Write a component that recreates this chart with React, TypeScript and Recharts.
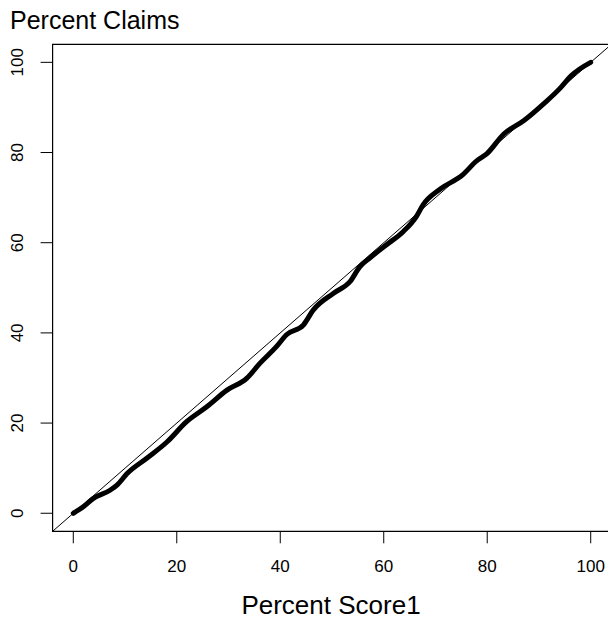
import { LineChart, Line, XAxis, YAxis, ReferenceArea } from "recharts";

// cumulative % of claims vs cumulative % of score
const scorePct = [
  0, 2, 3.9, 7.1, 8.5, 10.4, 14.2, 18.1, 21.9, 25.8, 29.7, 33.5, 36.1, 39.3,
  41.2, 44.5, 46.4, 50.3, 53.5, 55.4, 57.3, 60.6, 63.8, 66.3, 67.6, 70.8,
  75.3, 77.9, 79.9, 83.2, 87.1, 91.0, 94.2, 96.2, 100,
];
const claimPct = [
  0, 1.5, 3.3, 5.1, 6.3, 8.8, 12.2, 15.8, 20.3, 23.6, 27.3, 29.9, 33.3, 37.0,
  39.6, 41.8, 45.1, 48.8, 51.4, 54.7, 56.6, 59.6, 62.5, 65.8, 68.4, 71.8,
  75.1, 78.1, 79.7, 84.1, 87.1, 90.9, 94.4, 97.0, 100,
];
const ticks = [0, 20, 40, 60, 80, 100];
const domain: [number, number] = [-4, 104];

const curve = scorePct.map((x, i) => ({ x, y: claimPct[i] }));
const diagonal = [
  { x: domain[0], y: domain[0] },
  { x: domain[1], y: domain[1] },
];

const font = "'Liberation Sans', Arial, sans-serif";

const XTick = (props: any) => {
  const { x, y, payload } = props;
  return (
    <text
      x={x}
      y={y + 23}
      textAnchor="middle"
      dominantBaseline="central"
      fontSize={17}
      fontFamily={font}
      fill="#000"
    >
      {payload.value}
    </text>
  );
};

const YTick = (props: any) => {
  const { x, y, payload } = props;
  const cx = x - 23;
  return (
    <text
      x={cx}
      y={y}
      transform={`rotate(-90 ${cx} ${y})`}
      textAnchor="middle"
      dominantBaseline="central"
      fontSize={17}
      fontFamily={font}
      fill="#000"
    >
      {payload.value}
    </text>
  );
};

export default function App() {
  return (
    <div
      style={{
        position: "fixed",
        left: 0,
        top: 0,
        width: 608,
        height: 626,
        overflow: "hidden",
        background: "#fff",
        fontFamily: font,
      }}
    >
      <div
        style={{
          position: "absolute",
          left: 10,
          top: 5,
          fontSize: 25,
          lineHeight: "30px",
          color: "#000",
        }}
      >
        Percent Claims
      </div>
      <div
        style={{
          position: "absolute",
          left: 0,
          width: 662,
          top: 590,
          textAlign: "center",
          fontSize: 26,
          lineHeight: "30px",
          color: "#000",
        }}
      >
        Percent Score1
      </div>
      <LineChart
        width={640}
        height={626}
        margin={{ top: 44.3, right: 28.6, bottom: 0, left: 0 }}
      >
        <XAxis
          type="number"
          dataKey="x"
          domain={domain}
          ticks={ticks}
          allowDataOverflow
          axisLine={false}
          tickSize={12}
          tickMargin={0}
          tickLine={{ stroke: "#000", strokeWidth: 1 }}
          tick={<XTick />}
          height={94.7}
        />
        <YAxis
          type="number"
          dataKey="y"
          domain={domain}
          ticks={ticks}
          allowDataOverflow
          axisLine={false}
          tickSize={12}
          tickMargin={0}
          tickLine={{ stroke: "#000", strokeWidth: 1 }}
          tick={<YTick />}
          width={52.6}
        />
        <ReferenceArea
          x1={domain[0]}
          x2={domain[1]}
          y1={domain[0]}
          y2={domain[1]}
          fill="none"
          stroke="#000"
          strokeWidth={1.2}
          ifOverflow="visible"
        />
        <Line
          data={diagonal}
          dataKey="y"
          stroke="#000"
          strokeWidth={1}
          dot={false}
          isAnimationActive={false}
        />
        <Line
          data={curve}
          dataKey="y"
          type="monotone"
          stroke="#000"
          strokeWidth={5}
          strokeLinejoin="round"
          strokeLinecap="round"
          dot={false}
          isAnimationActive={false}
        />
      </LineChart>
    </div>
  );
}
